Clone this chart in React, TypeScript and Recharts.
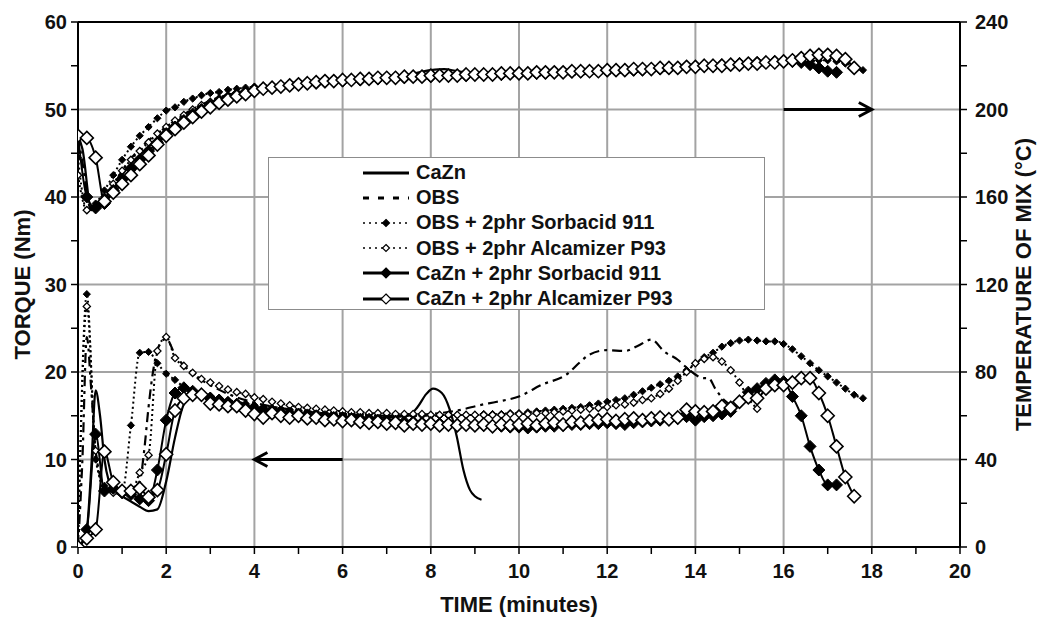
import React from "react";
import {
  CartesianGrid,
  Label,
  Legend,
  Line,
  LineChart,
  ReferenceLine,
  XAxis,
  YAxis,
} from "recharts";

// sample times (minutes) shared by the marker series
const TIME_GRID = [
  0, 0.2, 0.4, 0.6, 0.8, 1, 1.2, 1.4, 1.6, 1.8,
  2, 2.2, 2.4, 2.6, 2.8, 3, 3.2, 3.4, 3.6, 3.8,
  4, 4.2, 4.4, 4.6, 4.8, 5, 5.2, 5.4, 5.6, 5.8,
  6, 6.2, 6.4, 6.6, 6.8, 7, 7.2, 7.4, 7.6, 7.8,
  8, 8.2, 8.4, 8.6, 8.8, 9, 9.2, 9.4, 9.6, 9.8,
  10, 10.2, 10.4, 10.6, 10.8, 11, 11.2, 11.4, 11.6, 11.8,
  12, 12.2, 12.4, 12.6, 12.8, 13, 13.2, 13.4, 13.6, 13.8,
  14, 14.2, 14.4, 14.6, 14.8, 15, 15.2, 15.4, 15.6, 15.8,
  16, 16.2, 16.4, 16.6, 16.8, 17, 17.2, 17.4, 17.6, 17.8,
];

// CaZn (no markers)
const CAZN_T = [
  0, 0.1, 0.2, 0.3, 0.4, 0.5, 0.6, 0.7, 0.8, 1.0, 1.2, 1.4, 1.6, 1.8, 2.0, 2.2,
  2.4, 2.6, 2.8, 3.0, 3.5, 4, 5, 6, 7, 7.5, 7.7, 7.9, 8.05, 8.25, 8.43, 8.59,
  8.74, 8.89, 9.0, 9.15,
];
const CAZN_TQ = [
  0, 0.5, 2, 9, 17.9, 15, 10, 7.5, 6.5, 5.8, 5.2, 4.6, 4.1, 4.3, 7.5, 12.5,
  16.3, 17.3, 17.2, 17.0, 16.4, 15.8, 15.2, 14.9, 14.8, 15.0, 16.0, 17.5, 18.1,
  17.6, 15.7, 12.6, 8.8, 6.5, 5.8, 5.4,
];
const CAZN_TEMP_T = [0, 0.1, 0.3, 0.5, 0.8, 1.0, 1.5, 2, 2.5, 3, 4, 5, 6, 7, 7.5, 8, 8.3, 8.6, 9.15];
const CAZN_TEMP = [188, 182, 155, 156, 163, 170, 181, 190, 197, 202, 209, 212, 214, 215, 216, 218, 218.5, 217.5, 216.5];

// OBS (no markers)
const OBS_T = [
  0, 0.1, 0.2, 0.3, 0.4, 0.6, 0.8, 1.0, 1.2, 1.4,
  1.5, 1.6, 1.7, 1.8, 1.9, 2.0, 2.2, 2.5, 3, 3.5,
  4, 5, 6, 7, 8, 8.7, 9.1, 9.5, 10, 10.5,
  11.1, 11.4, 11.6, 12.0, 12.4, 12.7, 13.0, 13.3, 13.6, 13.8,
  14.2, 14.3, 14.45, 14.65, 14.85,
];
const OBS_TQ = [
  0, 10, 24, 18, 11, 7, 6.6, 6.5, 6.6, 7.5,
  11, 16, 20, 22.5, 23.5, 23.8, 22, 20.2, 18.5, 17.3,
  16.5, 15.6, 15.1, 15.0, 15.2, 15.7, 16.2, 16.6, 17.2, 18.5,
  19.8, 21.2, 22.0, 22.5, 22.4, 23.0, 23.7, 22.3, 21.4, 20.5,
  19.3, 19.3, 18.1, 16.8, 16.1,
];
const OBS_TEMP_T = [0, 0.1, 0.3, 0.5, 0.8, 1, 1.5, 2, 2.5, 3, 4, 5, 6, 8, 10, 12, 14, 14.85];
const OBS_TEMP = [188, 176, 154, 157, 165, 172, 184, 192, 199, 204, 209.5, 212.5, 214, 215.5, 216.5, 217.5, 219, 219.5];

// OBS + 2phr Sorbacid 911 (on TIME_GRID)
const OSS_TQ = [
  0, 28.9, 10.0, 7.0, 6.5, 6.3, 13.9, 22.2, 22.3, 21.0,
  19.8, 19.1, 18.3, 17.9, 17.6, 17.3, 17.0, 16.8, 16.6, 16.4,
  16.2, 16.0, 15.9, 15.8, 15.7, 15.6, 15.5, 15.4, 15.3, 15.3,
  15.2, 15.2, 15.1, 15.1, 15.0, 15.0, 15.0, 15.0, 15.0, 15.0,
  15.0, 15.0, 15.0, 15.1, 15.1, 15.1, 15.2, 15.2, 15.2, 15.3,
  15.3, 15.4, 15.5, 15.6, 15.7, 15.8, 15.9, 16.0, 16.2, 16.4,
  16.6, 16.8, 17.0, 17.4, 17.8, 18.2, 18.6, 19.0, 19.5, 20.2,
  21.0, 21.7, 22.2, 22.9, 23.3, 23.6, 23.7, 23.6, 23.5, 23.5,
  23.2, 22.6, 21.8, 21.0, 20.2, 19.5, 18.8, 18.1, 17.4, 17.0,
];
const OSS_TEMP = [
  178, 154, 157, 163, 170, 177, 183, 188, 192, 196,
  199.5, 201, 203.5, 205, 206.5, 207.5, 208, 209, 209.5, 210,
  210.5, 211, 211, 211.5, 212, 212, 212.5, 212.5, 213, 213,
  213, 213.5, 213.5, 213.5, 214, 214, 214, 214, 214.5, 214.5,
  214.5, 214.5, 214.5, 215, 215, 215, 215, 215, 215, 215.5,
  215.5, 215.5, 215.5, 215.5, 216, 216, 216, 216, 216.5, 216.5,
  216.5, 216.5, 217, 217, 217, 217.5, 217.5, 218, 218, 218.5,
  218.5, 219, 219, 219.5, 219.5, 220, 220, 220.5, 221, 221,
  221.5, 222, 222, 222, 222.5, 222.5, 222, 221, 220, 218,
];

// OBS + 2phr Alcamizer P93 (on TIME_GRID)
const OSA_TQ = [
  0, 27.5, 11.0, 6.5, 6.2, 6.0, 6.2, 8.5, 10.5, 22.4,
  24.0, 21.6, 20.7, 19.9, 19.2, 18.8, 18.4, 18.0, 17.7, 17.5,
  17.1, 16.9, 16.6, 16.4, 16.2, 16.0, 15.9, 15.8, 15.7, 15.6,
  15.5, 15.4, 15.4, 15.3, 15.3, 15.3, 15.2, 15.2, 15.2, 15.2,
  15.1, 15.1, 15.1, 15.1, 15.1, 15.1, 15.1, 15.1, 15.1, 15.2,
  15.2, 15.2, 15.3, 15.3, 15.4, 15.5, 15.6, 15.7, 15.8, 15.9,
  16.0, 16.2, 16.3, 16.5, 16.8, 17.0, 17.5, 18.1, 19.0, 20.0,
  21.0, 21.5, 21.7, 21.2, 20.2, 18.8, 17.0, 15.8,
];
const OSA_TEMP = [
  170, 154, 155, 160, 166, 172, 177, 181, 185, 189,
  192, 195, 197.5, 200, 202, 203.5, 205, 206, 207, 208,
  208.5, 209, 209.5, 210, 210.5, 211, 211.5, 212, 212, 212.5,
  212.5, 213, 213, 213.5, 213.5, 214, 214, 214, 214.5, 214.5,
  214.5, 215, 215, 215, 215, 215.5, 215.5, 215.5, 215.5, 216,
  216, 216, 216, 216, 216.5, 216.5, 216.5, 216.5, 217, 217,
  217, 217, 217.5, 217.5, 217.5, 218, 218, 218, 218.5, 218.5,
  219, 219, 219, 219.5, 219.5, 220, 220, 220,
];

// CaZn + 2phr Sorbacid 911 (on TIME_GRID)
const CZS_TQ = [
  0, 2.0, 12.9, 6.4, 6.7, 6.2, 6.0, 5.5, 5.3, 8.8,
  14.5, 17.6, 18.2, 17.8, 17.4, 17.0, 16.8, 16.5, 16.3, 16.0,
  15.9, 15.7, 15.6, 15.4, 15.3, 15.2, 15.1, 15.0, 14.9, 14.8,
  14.8, 14.7, 14.6, 14.6, 14.5, 14.4, 14.4, 14.3, 14.3, 14.2,
  14.2, 14.1, 14.1, 14.0, 14.0, 13.9, 13.9, 13.8, 13.8, 13.7,
  13.7, 13.6, 13.7, 13.8, 13.8, 13.9, 14.0, 14.0, 14.1, 14.1,
  14.2, 14.1, 14.0, 14.2, 14.3, 14.4, 14.5, 14.6, 14.7, 14.9,
  14.5, 14.9, 15.0, 15.2, 15.5, 16.5, 17.7, 18.1, 18.7, 19.1,
  18.9, 17.2, 15.0, 11.5, 8.8, 7.1, 7.1,
];
const CZS_TEMP = [
  188, 160, 155, 157, 163, 168, 173, 177, 181, 185,
  189, 192, 195, 198, 200, 202, 204, 205.5, 207, 208,
  209, 209.5, 210, 210.5, 211, 211.5, 212, 212, 212.5, 213,
  213, 213.5, 213.5, 214, 214, 214.5, 214.5, 214.5, 215, 215,
  215, 215.5, 215.5, 215.5, 215.5, 216, 216, 216, 216, 216.5,
  216.5, 216.5, 216.5, 217, 217, 217, 217, 217.5, 217.5, 217.5,
  218, 218, 218, 218, 218.5, 218.5, 218.5, 219, 219, 219.5,
  219.5, 220, 220, 220.5, 220.5, 221, 221, 221.5, 221.5, 222,
  222, 222, 221.5, 220.5, 219, 217.5, 217,
];

// CaZn + 2phr Alcamizer P93 (on TIME_GRID)
const CZA_TQ = [
  0, 1.0, 2.0, 10.9, 7.4, 6.4, 6.4, 6.7, 5.7, 6.5,
  10.6, 15.6, 17.0, 17.4, 17.4, 16.4, 16.3, 16.1, 16.1, 15.6,
  15.2, 14.8, 15.3, 15.0, 14.8, 15.0, 14.7, 14.8, 14.5, 14.6,
  14.4, 14.5, 14.3, 14.2, 14.3, 14.1, 14.2, 13.9, 14.1, 14.0,
  14.1, 13.9, 14.0, 13.9, 14.0, 13.9, 14.0, 13.8, 14.0, 13.9,
  14.0, 14.1, 13.9, 14.1, 14.2, 14.0, 14.3, 14.2, 14.4, 14.5,
  14.6, 14.4, 14.6, 14.7, 14.5, 14.7, 14.8, 14.6, 14.8, 15.7,
  15.5, 15.4, 15.5, 16.1, 15.9, 16.6, 17.1, 17.0, 18.1, 18.5,
  18.5, 18.8, 19.3, 19.3, 17.6, 15.0, 11.5, 8.0, 5.8,
];
const CZA_TEMP = [
  188, 187, 178, 158, 162, 166, 170, 175, 179, 184,
  188, 191, 194, 196.5, 199, 201, 203, 204.5, 206, 207,
  208.5, 209.5, 210, 210.5, 211, 211.5, 212, 212.5, 213, 213,
  213.5, 213.5, 214, 214, 214.5, 214.5, 214.5, 215, 215, 215,
  215.5, 215.5, 215.5, 215.5, 216, 216, 216, 216, 216.5, 216.5,
  216.5, 216.5, 217, 217, 217, 217, 217.5, 217.5, 217.5, 217.5,
  218, 218, 218, 218.5, 218.5, 218.5, 219, 219, 219, 219.5,
  219.5, 220, 220, 220, 220.5, 220.5, 221, 221, 221.5, 221.5,
  222, 222.5, 223.5, 224.5, 225, 225, 224.5, 223, 219,
];

const X_TICKS = [0, 1, 2, 3, 4, 5, 6, 7, 8, 9, 10, 11, 12, 13, 14, 15, 16, 17, 18, 19, 20];
const TQ_TICKS = [0, 5, 10, 15, 20, 25, 30, 35, 40, 45, 50, 55, 60];
const TEMP_TICKS = [0, 20, 40, 60, 80, 100, 120, 140, 160, 180, 200, 220, 240];
const GRID_X = [2, 4, 6, 8, 10, 12, 14, 16, 18];
const GRID_Y = [10, 20, 30, 40, 50];

const FONT = '"Liberation Sans", Arial, Helvetica, sans-serif';

type Pt = { t: number; v: number };
const zip = (ts: number[], vs: number[]): Pt[] => vs.map((v, i) => ({ t: ts[i], v }));

const diamondPath = (cx: number, cy: number, r: number) =>
  `M${cx},${cy - r}L${cx + r},${cy}L${cx},${cy + r}L${cx - r},${cy}Z`;

const MARKERS: Record<string, { r: number; fill: string; sw: number; lr: number }> = {
  smallFilled: { r: 3.6, fill: "#000", sw: 1, lr: 3.5 },
  smallOpen: { r: 3.6, fill: "#fff", sw: 1.3, lr: 3.5 },
  bigFilled: { r: 6, fill: "#000", sw: 1, lr: 5 },
  bigOpen: { r: 6.5, fill: "#fff", sw: 1.6, lr: 5 },
};

function makeDot(m: { r: number; fill: string; sw: number }) {
  return (p: any) => {
    const { cx, cy, index } = p;
    if (cx == null || cy == null || isNaN(cx) || isNaN(cy)) return <g key={`n${index}`} />;
    return (
      <path key={`d${index}`} d={diamondPath(cx, cy, m.r)} fill={m.fill} stroke="#000" strokeWidth={m.sw} />
    );
  };
}

const SERIES = [
  { key: "cazn", name: "CaZn", tq: zip(CAZN_T, CAZN_TQ), temp: zip(CAZN_TEMP_T, CAZN_TEMP), dash: undefined, legendDash: undefined, marker: null, width: 2.2 },
  { key: "obs", name: "OBS", tq: zip(OBS_T, OBS_TQ), temp: zip(OBS_TEMP_T, OBS_TEMP), dash: "10 5 3 5", legendDash: "6 9", marker: null, width: 2.2 },
  { key: "oss", name: "OBS + 2phr Sorbacid 911", tq: zip(TIME_GRID, OSS_TQ), temp: zip(TIME_GRID, OSS_TEMP), dash: "2 3", legendDash: "2 4", marker: "smallFilled", width: 2 },
  { key: "osa", name: "OBS + 2phr Alcamizer P93", tq: zip(TIME_GRID, OSA_TQ), temp: zip(TIME_GRID, OSA_TEMP), dash: "2 3", legendDash: "2 4", marker: "smallOpen", width: 2 },
  { key: "czs", name: "CaZn + 2phr Sorbacid 911", tq: zip(TIME_GRID, CZS_TQ), temp: zip(TIME_GRID, CZS_TEMP), dash: undefined, legendDash: undefined, marker: "bigFilled", width: 2 },
  { key: "cza", name: "CaZn + 2phr Alcamizer P93", tq: zip(TIME_GRID, CZA_TQ), temp: zip(TIME_GRID, CZA_TEMP), dash: undefined, legendDash: undefined, marker: "bigOpen", width: 2 },
];

const textStyle = { fontFamily: FONT, fontWeight: 700, fontSize: 20, fill: "#111" };
const titleStyle = { ...textStyle, fontSize: 22 };

const renderXTick = (p: any) => {
  const v = p.payload?.value;
  if (v % 2 !== 0) return <g />;
  return (
    <text x={p.x} y={p.y + 22} textAnchor="middle" {...textStyle}>
      {v}
    </text>
  );
};
const renderLeftTick = (p: any) => {
  const v = p.payload?.value;
  if (v % 10 !== 0) return <g />;
  return (
    <text x={p.x - 2} y={p.y + 7} textAnchor="end" {...textStyle}>
      {v}
    </text>
  );
};
const renderRightTick = (p: any) => {
  const v = p.payload?.value;
  if (v % 40 !== 0) return <g />;
  return (
    <text x={p.x + 6} y={p.y + 7} textAnchor="start" {...textStyle}>
      {v}
    </text>
  );
};

const vTitle = (text: string, dx: number) => (p: any) => {
  const vb = p.viewBox || {};
  const cx = vb.x + dx;
  const cy = vb.y + vb.height / 2;
  return (
    <text
      x={cx}
      y={cy}
      transform={`rotate(-90 ${cx} ${cy})`}
      textAnchor="middle"
      dominantBaseline="central"
      {...titleStyle}
    >
      {text}
    </text>
  );
};
const xTitle = (p: any) => {
  const vb = p.viewBox || {};
  return (
    <text x={vb.x + vb.width / 2} y={vb.y + 57} textAnchor="middle" dominantBaseline="central" {...titleStyle}>
      TIME (minutes)
    </text>
  );
};

const arrowShape = (p: any) => {
  const { x1, y1, x2, y2 } = p;
  const dir = Math.sign(x2 - x1) || 1;
  return (
    <g>
      <line x1={x1} y1={y1} x2={x2 - dir * 2} y2={y2} stroke="#000" strokeWidth={3} />
      <polyline
        points={`${x2 - dir * 13},${y2 - 7} ${x2},${y2} ${x2 - dir * 13},${y2 + 7}`}
        fill="none"
        stroke="#000"
        strokeWidth={3}
      />
    </g>
  );
};

function LegendBox() {
  return (
    <div
      style={{
        width: 497,
        height: 153,
        boxSizing: "border-box",
        border: "1px solid #8c8c8c",
        background: "#fff",
        paddingTop: 2,
        fontFamily: FONT,
        fontWeight: 700,
        fontSize: 20,
        color: "#111",
      }}
    >
      {SERIES.map((s) => {
        const m = s.marker ? MARKERS[s.marker] : null;
        return (
          <div key={s.key} style={{ display: "flex", alignItems: "center", height: 25.2 }}>
            <svg width={48} height={20} style={{ marginLeft: 93 }}>
              <line
                x1={1}
                x2={47}
                y1={10}
                y2={10}
                stroke="#000"
                strokeWidth={s.dash === "2 3" ? 1.5 : 3}
                strokeDasharray={s.legendDash}
              />
              {m && <path d={diamondPath(24, 10, m.lr)} fill={m.fill} stroke="#000" strokeWidth={1.2} />}
            </svg>
            <span style={{ marginLeft: 6, lineHeight: "25px" }}>{s.name}</span>
          </div>
        );
      })}
    </div>
  );
}

export default function App() {
  return (
    <div style={{ width: 1038, height: 621, background: "#fff" }}>
      <style>{"body{margin:0;background:#fff}"}</style>
      <LineChart width={1038} height={621} margin={{ top: 22, right: 18, bottom: 44, left: 18 }}>
        <CartesianGrid
          yAxisId="tq"
          stroke="#a3a3a3"
          strokeWidth={2}
          verticalValues={GRID_X}
          horizontalValues={GRID_Y}
        />
        <XAxis
          type="number"
          dataKey="t"
          domain={[0, 20]}
          ticks={X_TICKS}
          interval={0}
          height={30}
          tickSize={7}
          tickLine={{ stroke: "#000", strokeWidth: 1.5 }}
          axisLine={{ stroke: "#000", strokeWidth: 2 }}
          tick={renderXTick}
          allowDataOverflow
          label={<Label content={xTitle} />}
        />
        <YAxis
          yAxisId="tq"
          orientation="left"
          type="number"
          domain={[0, 60]}
          ticks={TQ_TICKS}
          interval={0}
          width={60}
          tickSize={7}
          tickLine={{ stroke: "#000", strokeWidth: 1.5 }}
          axisLine={{ stroke: "#000", strokeWidth: 2 }}
          tick={renderLeftTick}
          allowDataOverflow
          label={<Label content={vTitle("TORQUE (Nm)", 4)} />}
        />
        <YAxis
          yAxisId="temp"
          orientation="right"
          type="number"
          domain={[0, 240]}
          ticks={TEMP_TICKS}
          interval={0}
          width={60}
          tickSize={7}
          tickLine={{ stroke: "#000", strokeWidth: 1.5 }}
          axisLine={{ stroke: "#000", strokeWidth: 2 }}
          tick={renderRightTick}
          allowDataOverflow
          label={<Label content={vTitle("TEMPERATURE OF MIX (°C)", 63)} />}
        />
        <ReferenceLine yAxisId="tq" y={60} stroke="#000" strokeWidth={2} />

        {SERIES.map((s) => {
          const m = s.marker ? MARKERS[s.marker] : null;
          return [
            <Line
              key={`${s.key}-temp`}
              yAxisId="temp"
              data={s.temp}
              dataKey="v"
              type="monotone"
              stroke="#000"
              strokeWidth={s.width}
              strokeDasharray={s.dash}
              dot={m ? makeDot(m) : false}
              activeDot={false}
              legendType="none"
              isAnimationActive={false}
            />,
            <Line
              key={`${s.key}-tq`}
              yAxisId="tq"
              data={s.tq}
              dataKey="v"
              name={s.name}
              type="monotone"
              stroke="#000"
              strokeWidth={s.width}
              strokeDasharray={s.dash}
              dot={m ? makeDot(m) : false}
              activeDot={false}
              isAnimationActive={false}
            />,
          ];
        })}

        <ReferenceLine
          yAxisId="tq"
          segment={[
            { x: 6, y: 10 },
            { x: 4, y: 10 },
          ]}
          shape={arrowShape}
        />
        <ReferenceLine
          yAxisId="temp"
          segment={[
            { x: 16, y: 200 },
            { x: 18, y: 200 },
          ]}
          shape={arrowShape}
        />

        <Legend
          layout="vertical"
          align="center"
          verticalAlign="middle"
          content={() => <LegendBox />}
          wrapperStyle={{ left: 268, top: 157, width: 497, height: 153 }}
        />
      </LineChart>
    </div>
  );
}
